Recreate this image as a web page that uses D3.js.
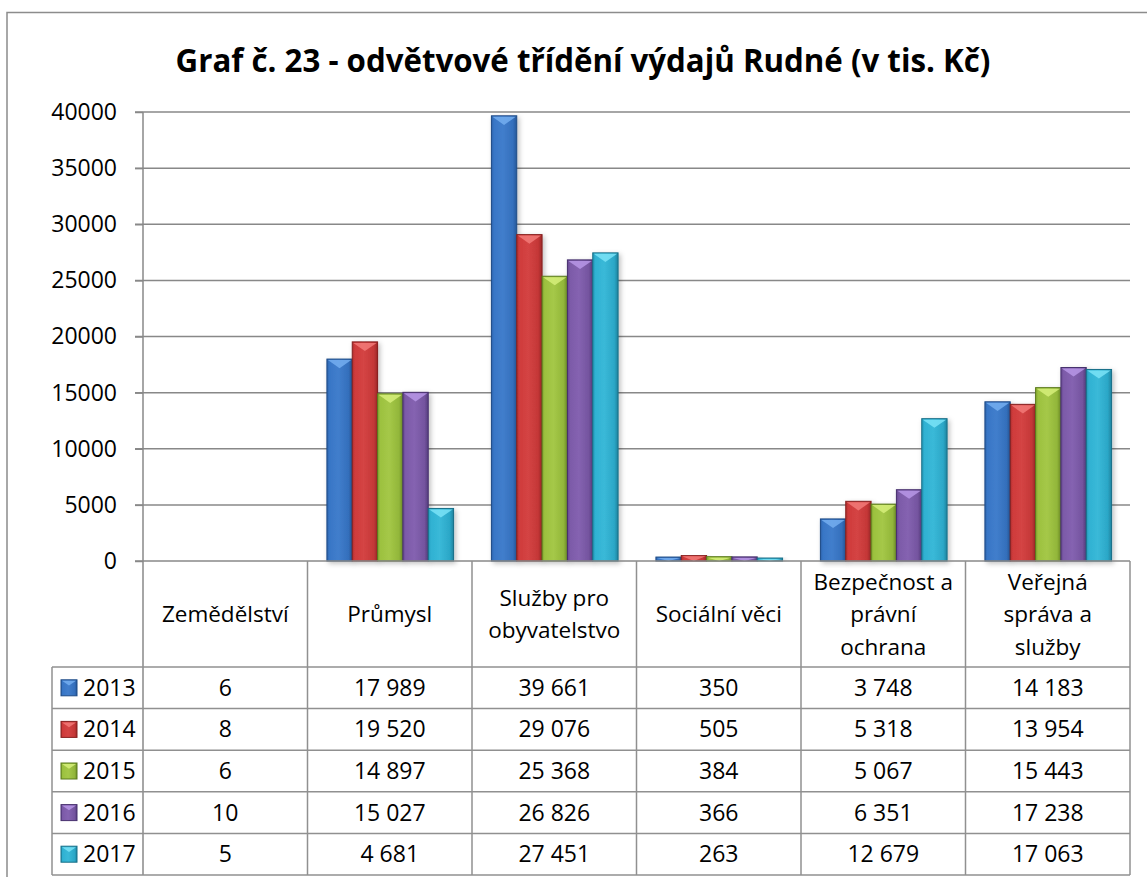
<!DOCTYPE html>
<html>
<head>
<meta charset="utf-8">
<script src="https://cdn.jsdelivr.net/npm/d3@7"></script>
<style>
  body { margin: 0; background: #ffffff; }
  svg { display: block; }
  text { font-family: "Open Sans", "Noto Sans", sans-serif; fill: #000; }
</style>
</head>
<body>
<div id="chart"></div>
<script>
// data
const categories = ["Zemědělství", "Průmysl", "Služby pro\nobyvatelstvo", "Sociální věci", "Bezpečnost a\nprávní\nochrana", "Veřejná\nspráva a\nslužby"];
const years = ["2013", "2014", "2015", "2016", "2017"];
const values2013 = [6, 17989, 39661, 350, 3748, 14183];
const values2014 = [8, 19520, 29076, 505, 5318, 13954];
const values2015 = [6, 14897, 25368, 384, 5067, 15443];
const values2016 = [10, 15027, 26826, 366, 6351, 17238];
const values2017 = [5, 4681, 27451, 263, 12679, 17063];
const yTicks = [0, 5000, 10000, 15000, 20000, 25000, 30000, 35000, 40000];
const titleText = "Graf č. 23 - odvětvové třídění výdajů Rudné (v tis. Kč)";

const series = [values2013, values2014, values2015, values2016, values2017];

// bar colours: [dark, base, light]
const palette = [
    ["#1d4a86", "#3876c6", "#74aef0"],
    ["#86201f", "#cf3b3b", "#f27a78"],
    ["#5b7a1c", "#9cc13f", "#d6ee7a"],
    ["#47306e", "#7c5aa8", "#b797e6"],
    ["#176f88", "#2fb1d2", "#7ae3f7"]
];

const W = 1147, H = 877;
const svg = d3.select("#chart").append("svg")
    .attr("width", W)
    .attr("height", H);

const defs = svg.append("defs");

palette.forEach((c, i) => {
    let g = defs.append("linearGradient")
        .attr("id", "bar" + i)
        .attr("x1", "0%").attr("x2", "100%").attr("y1", "0%").attr("y2", "0%");
    g.append("stop").attr("offset", "0%").attr("stop-color", d3.interpolateRgb(c[1], c[0])(0.45));
    g.append("stop").attr("offset", "10%").attr("stop-color", c[1]);
    g.append("stop").attr("offset", "45%").attr("stop-color", d3.interpolateRgb(c[1], c[2])(0.15));
    g.append("stop").attr("offset", "85%").attr("stop-color", d3.interpolateRgb(c[1], c[0])(0.15));
    g.append("stop").attr("offset", "100%").attr("stop-color", d3.interpolateRgb(c[1], c[0])(0.7));
});

let shadow = defs.append("filter").attr("id", "shadow")
    .attr("x", "-20%").attr("y", "-5%").attr("width", "150%").attr("height", "120%");
shadow.append("feDropShadow")
    .attr("dx", 2).attr("dy", 2).attr("stdDeviation", 2.5)
    .attr("flood-color", "#000").attr("flood-opacity", 0.25);

// outer chart border
svg.append("rect")
    .attr("x", 7).attr("y", 12.5)
    .attr("width", 1160).attr("height", 900)
    .attr("fill", "#fff")
    .attr("stroke", "#8c8c8c")
    .attr("stroke-width", 1.5);

// title
let title = svg.append("text")
    .attr("x", 583).attr("y", 72)
    .attr("text-anchor", "middle")
    .attr("font-weight", "bold")
    .attr("font-size", 28)
    .text(titleText);
let tw = title.node().getComputedTextLength();
title.attr("font-size", 28 * 815 / tw);

// scales
const plotLeft = 143, plotRight = 1130, plotTop = 112, plotBottom = 561;

const x0 = d3.scaleBand()
    .domain(categories)
    .range([plotLeft, plotRight]);

const bw = x0.bandwidth();
const x1 = d3.scaleBand()
    .domain(years)
    .range([bw * 0.118, bw * 0.888]);

const y = d3.scaleLinear()
    .domain([0, 40000])
    .range([plotBottom, plotTop]);

const gridColor = "#888888";

// gridlines
svg.append("g")
    .selectAll("line")
    .data(yTicks.filter(d => d > 0))
    .enter()
    .append("line")
    .attr("x1", plotLeft - 8)
    .attr("x2", plotRight)
    .attr("y1", d => y(d))
    .attr("y2", d => y(d))
    .attr("stroke", gridColor)
    .attr("stroke-width", 1.5);

// y axis with tick labels
const yAxis = d3.axisLeft(y)
    .tickValues(yTicks)
    .tickSize(8)
    .tickPadding(18)
    .tickFormat(d3.format("d"));

let yg = svg.append("g")
    .attr("transform", `translate(${plotLeft},0)`)
    .call(yAxis);
yg.select(".domain").remove();
yg.selectAll(".tick line").attr("stroke", gridColor).attr("stroke-width", 1.5);
yg.selectAll(".tick text")
    .attr("font-size", 23)
    .attr("font-family", "'Open Sans', sans-serif")
    .attr("fill", "#000");

// bars
const bars = svg.append("g");

function drawBar(g, x, yTop, w, h, i, withShadow) {
    let c = palette[i];
    g.append("rect")
        .attr("x", x).attr("y", yTop)
        .attr("width", w).attr("height", h)
        .attr("fill", "url(#bar" + i + ")")
        .attr("stroke", c[0])
        .attr("stroke-width", 1)
        .attr("filter", withShadow ? "url(#shadow)" : null);
    let depth = Math.min(w * 0.36, h);
    if (depth > 1.5) {
        g.append("polygon")
            .attr("points", [[x + 1, yTop + 1], [x + w - 1, yTop + 1], [x + w / 2, yTop + depth]].map(p => p.join(",")).join(" "))
            .attr("fill", c[2])
            .attr("opacity", 0.85);
    } else if (h > 0.5) {
        g.append("rect")
            .attr("x", x + 1).attr("y", yTop + 0.5)
            .attr("width", w - 2).attr("height", Math.max(h - 1, 0.5))
            .attr("fill", c[2]).attr("opacity", 0.6);
    }
}

categories.forEach((cat, ci) => {
    years.forEach((yr, si) => {
        let v = series[si][ci];
        let bx = x0(cat) + x1(yr);
        let by = y(v);
        let bh = y(0) - y(v);
        if (bh < 0.3) return;
        drawBar(bars, bx, by, x1.bandwidth(), bh, si, true);
    });
});

// data table
const tableLeft = 52;
const headerBottom = 667;
const rowH = 41.6;
const tableBottom = headerBottom + rowH * years.length;
const lineColor = "#909090";
const fmt = d3.formatLocale({decimal: ",", thousands: " ", grouping: [3], currency: ["", ""]}).format(",d");

const table = svg.append("g");

// x axis line (header top)
table.append("line")
    .attr("x1", plotLeft - 8).attr("x2", plotRight)
    .attr("y1", plotBottom).attr("y2", plotBottom)
    .attr("stroke", gridColor).attr("stroke-width", 1.5);

// y axis line down through the table
table.append("line")
    .attr("x1", plotLeft).attr("x2", plotLeft)
    .attr("y1", plotTop).attr("y2", tableBottom)
    .attr("stroke", gridColor).attr("stroke-width", 1.5);

// vertical separators
table.selectAll(".vsep")
    .data(categories)
    .enter()
    .append("line")
    .attr("class", "vsep")
    .attr("x1", d => x0(d) + bw).attr("x2", d => x0(d) + bw)
    .attr("y1", plotBottom).attr("y2", tableBottom)
    .attr("stroke", lineColor).attr("stroke-width", 1.5);

// horizontal row lines
const rowLines = d3.range(years.length + 1).map(i => headerBottom + i * rowH);
table.selectAll(".hsep")
    .data(rowLines)
    .enter()
    .append("line")
    .attr("class", "hsep")
    .attr("x1", tableLeft).attr("x2", plotRight)
    .attr("y1", d => d).attr("y2", d => d)
    .attr("stroke", lineColor).attr("stroke-width", 1.5);

table.append("line")
    .attr("x1", tableLeft).attr("x2", tableLeft)
    .attr("y1", headerBottom).attr("y2", tableBottom)
    .attr("stroke", lineColor).attr("stroke-width", 1.5);

// header labels
const headerMid = (plotBottom + headerBottom) / 2;
categories.forEach(cat => {
    let lines = cat.split("\n");
    let lh = 32.5;
    let t = table.append("text")
        .attr("text-anchor", "middle")
        .attr("font-size", 22.5);
    lines.forEach((ln, li) => {
        t.append("tspan")
            .attr("x", x0(cat) + bw / 2)
            .attr("y", headerMid + (li - (lines.length - 1) / 2) * lh + 8)
            .text(ln);
    });
});

// rows
years.forEach((yr, si) => {
    let rowMid = headerBottom + si * rowH + rowH / 2;
    drawBar(table, 61, rowMid - 8, 16, 16, si, false);
    table.append("text")
        .attr("x", 83).attr("y", rowMid + 8)
        .attr("font-size", 23)
        .text(yr);
    categories.forEach((cat, ci) => {
        table.append("text")
            .attr("x", x0(cat) + bw / 2)
            .attr("y", rowMid + 8)
            .attr("text-anchor", "middle")
            .attr("font-size", 23)
            .text(fmt(series[si][ci]));
    });
});
</script>
</body>
</html>
